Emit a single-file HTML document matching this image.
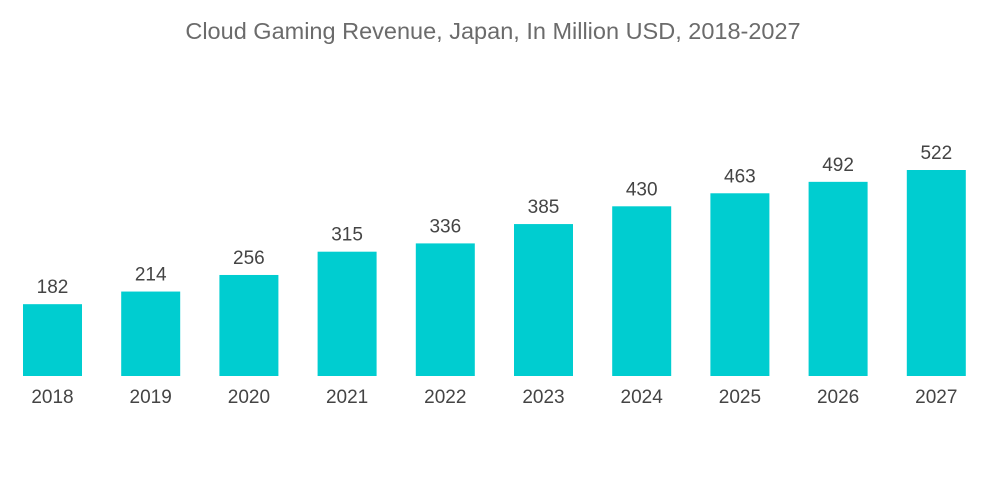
<!DOCTYPE html>
<html><head><meta charset="utf-8"><style>
body{margin:0;background:#fff;}
svg{display:block;font-family:"Liberation Sans",sans-serif;}
</style></head><body>
<svg id="chart" width="1000" height="504">
<text x="493" y="39" text-anchor="middle" font-size="23.5" fill="#6b6b6b">Cloud Gaming Revenue, Japan, In Million USD, 2018-2027</text>
<g id="bars"></g>
</svg>
<script>
const categories=["2018","2019","2020","2021","2022","2023","2024","2025","2026","2027"];
const values=[182,214,256,315,336,385,430,463,492,522];
const baseY=376, scale=206/522, x0=23, step=98.2, bw=59;
const xPos=i=>x0+i*step;
const yPos=v=>baseY-v*scale;
const g=document.getElementById('bars');
const ns="http://www.w3.org/2000/svg";
categories.forEach((c,i)=>{
  const v=values[i];
  const r=document.createElementNS(ns,'rect');
  r.setAttribute('x',xPos(i));r.setAttribute('y',yPos(v));
  r.setAttribute('width',bw);r.setAttribute('height',baseY-yPos(v));
  r.setAttribute('fill','#00cdd0');
  
  
  g.appendChild(r);
  const t=document.createElementNS(ns,'text');
  t.setAttribute('x',xPos(i)+bw/2);t.setAttribute('y',yPos(v)-11);
  t.setAttribute('text-anchor','middle');t.setAttribute('font-size','19');t.setAttribute('fill','#444');
  t.textContent=v;
  
  
  g.appendChild(t);
  const l=document.createElementNS(ns,'text');
  l.setAttribute('x',xPos(i)+bw/2);l.setAttribute('y',403);
  l.setAttribute('text-anchor','middle');l.setAttribute('font-size','19');l.setAttribute('fill','#444');
  l.textContent=c;
  
  
  g.appendChild(l);
});
</script>
</body></html>
